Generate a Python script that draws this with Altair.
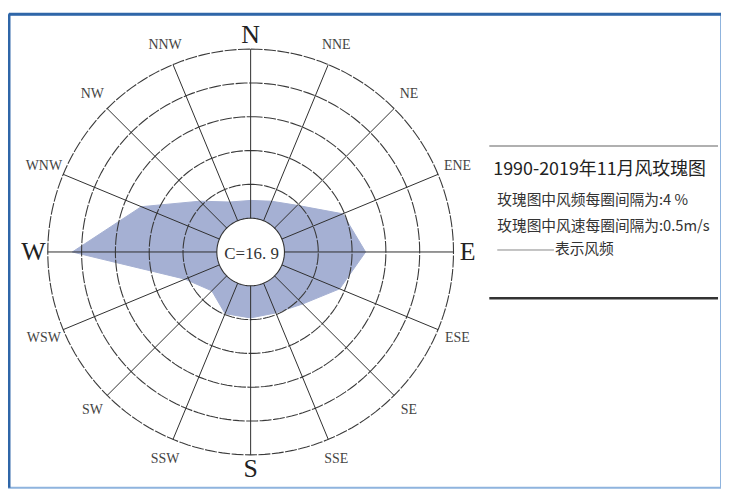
import altair as alt
import pandas as pd
import numpy as np

# ---- data ----
directions = ["N", "NNE", "NE", "ENE", "E", "ESE", "SE", "SSE",
              "S", "SSW", "SW", "WSW", "W", "WNW", "NW", "NNW"]
freq = [2.1, 2.5, 3.8, 7.8, 9.6, 7.4, 4.7, 3.8,
        3.8, 3.9, 2.5, 4.4, 17.1, 10.0, 4.5, 2.4]   # % per direction
calm_label = "C=16. 9"
ring_index = [1, 2, 3, 4, 5, 6]      # ring 1 = calm circle, each further ring = 4 %
ring_step_pct = 4
title_text = "1990-2019年11月风玫瑰图"
legend_lines = ["玫瑰图中风频每圈间隔为:4 %", "玫瑰图中风速每圈间隔为:0.5m/s"]
legend_key = "表示风频"
cardinals = ["N", "E", "S", "W"]

# ---- tables ----
dir_df = pd.DataFrame({"dir": directions, "idx": list(range(len(directions))), "freq": freq})
dir_df["card"] = dir_df["dir"].isin(cardinals)

# grid circles (axis geometry)
deg = np.arange(0, 360, 2)
ring_df = pd.DataFrame([(k, d) for k in ring_index for d in deg], columns=["ring", "deg"])

W, H = 716, 476
unit = 34.0
cx, cy = 243.0, 239.0
xdom = [-cx / unit, (W - cx) / unit]
ydom = [-(H - cy) / unit, cy / unit]

xs = alt.Scale(domain=xdom, nice=False, zero=False)
ys = alt.Scale(domain=ydom, nice=False, zero=False)

X = alt.X("x:Q", scale=xs, axis=None)
Y = alt.Y("y:Q", scale=ys, axis=None)

base_dir = alt.Chart(dir_df).transform_calculate(ang="datum.idx * PI / 8")

# filled frequency polygon
poly = base_dir.transform_calculate(
    r=f"1 + datum.freq / {ring_step_pct}"
).transform_calculate(
    x="datum.r * sin(datum.ang)", y="datum.r * cos(datum.ang)"
).mark_line(
    interpolate="linear-closed", fill="#a5b0d3", stroke="#a5b0d3", strokeWidth=1
).encode(x=X, y=Y, order=alt.Order("idx:Q"))

ring_base = alt.Chart(ring_df).transform_calculate(
    x="datum.ring * sin(datum.deg * PI / 180)",
    y="datum.ring * cos(datum.deg * PI / 180)",
)

inner_disk = ring_base.transform_filter("datum.ring == 1").mark_line(
    interpolate="linear-closed", fill="white", stroke="#333", strokeWidth=1.1
).encode(x=X, y=Y, order=alt.Order("deg:Q"))

rings = ring_base.transform_filter("datum.ring > 1").mark_line(
    interpolate="linear-closed", stroke="#3a3a3a", strokeWidth=1.1, strokeDash=[12, 1.5]
).encode(x=X, y=Y, detail="ring:N", order=alt.Order("deg:Q"))

spokes = base_dir.transform_calculate(
    x=f"{ring_index[0]} * sin(datum.ang)", y=f"{ring_index[0]} * cos(datum.ang)",
    x2=f"{ring_index[-1]} * sin(datum.ang)", y2=f"{ring_index[-1]} * cos(datum.ang)",
).mark_rule(color="#2e2e2e", strokeWidth=1).encode(x=X, y=Y, x2="x2:Q", y2="y2:Q")

lab_small = base_dir.transform_filter("!datum.card").transform_calculate(
    x="6.62 * sin(datum.ang)", y="6.62 * cos(datum.ang)"
).mark_text(font="Liberation Serif", fontSize=14, color="#444",
            align="center", baseline="middle").encode(x=X, y=Y, text="dir:N")

lab_big = base_dir.transform_filter("datum.card").transform_calculate(
    x="6.42 * sin(datum.ang)", y="6.42 * cos(datum.ang)"
).mark_text(font="Liberation Serif", fontSize=26, color="#222",
            align="center", baseline="middle").encode(x=X, y=Y, text="dir:N")

calm_txt = alt.Chart(pd.DataFrame({"t": [calm_label], "x": [0.0], "y": [0.0]})).mark_text(
    font="Liberation Serif", fontSize=17, color="#333", align="center", baseline="middle", dx=1, dy=2
).encode(x=X, y=Y, text="t:N")

# ---- right-hand legend panel ----
one = pd.DataFrame({"a": [0]})
top_line = alt.Chart(one).mark_rule(color="#b0b0b0", strokeWidth=2).encode(
    x=alt.value(483), x2=alt.value(713), y=alt.value(132.5))
bot_line = alt.Chart(one).mark_rule(color="#333", strokeWidth=2.5).encode(
    x=alt.value(483), x2=alt.value(713), y=alt.value(285.5))
title = alt.Chart(pd.DataFrame({"t": [title_text]})).mark_text(
    font="Noto Sans CJK SC", fontSize=18, color="#222", align="left", baseline="middle"
).encode(x=alt.value(487), y=alt.value(156.5), text="t:N")
l1 = alt.Chart(pd.DataFrame({"t": [legend_lines[0]]})).mark_text(
    font="Noto Sans CJK SC", fontSize=14.8, color="#333", align="left", baseline="middle"
).encode(x=alt.value(491), y=alt.value(188), text="t:N")
l2 = alt.Chart(pd.DataFrame({"t": [legend_lines[1]]})).mark_text(
    font="Noto Sans CJK SC", fontSize=14.8, color="#333", align="left", baseline="middle"
).encode(x=alt.value(491), y=alt.value(214), text="t:N")
key_line = alt.Chart(one).mark_rule(color="#888", strokeWidth=1).encode(
    x=alt.value(491), x2=alt.value(548), y=alt.value(237))
key_txt = alt.Chart(pd.DataFrame({"t": [legend_key]})).mark_text(
    font="Noto Sans CJK SC", fontSize=14.8, color="#333", align="left", baseline="middle"
).encode(x=alt.value(549), y=alt.value(237), text="t:N")

# frame accents
frame_top = alt.Chart(one).mark_rule(color="#2f66a8", strokeWidth=3).encode(
    x=alt.value(0), x2=alt.value(W), y=alt.value(0))
frame_left = alt.Chart(one).mark_rule(color="#2f66a8", strokeWidth=3).encode(
    x=alt.value(0), y=alt.value(0), y2=alt.value(H))

chart = alt.layer(
    poly, inner_disk, rings, spokes, lab_small, lab_big, calm_txt,
    top_line, bot_line, title, l1, l2, key_line, key_txt, frame_top, frame_left
).properties(
    width=W, height=H,
    padding={"left": 1, "top": 5, "right": 0, "bottom": 0},
    autosize=alt.AutoSizeParams(type="none"),
    background="white",
).configure_view(stroke="#8fb4de", strokeWidth=2)

chart.save("out.html", embed_options={"renderer": "svg", "actions": False})
